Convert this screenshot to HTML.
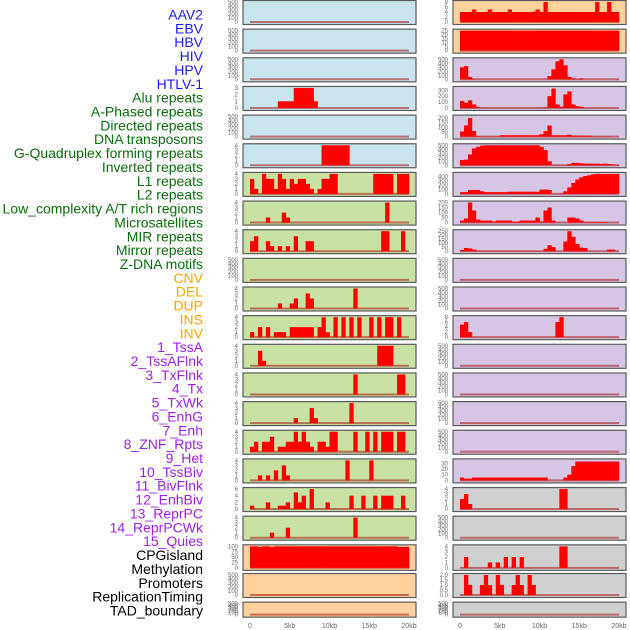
<!DOCTYPE html>
<html><head><meta charset="utf-8"><style>
html,body{margin:0;padding:0;background:#fff;width:630px;height:630px;overflow:hidden}
svg{display:block;font-family:"Liberation Sans",sans-serif}
</style></head><body>
<svg id="chart" width="630" height="630" viewBox="0 0 630 630"></svg>
<script>
const categories = ["AAV2","EBV","HBV","HIV","HPV","HTLV-1","Alu repeats","A-Phased repeats","Directed repeats","DNA transposons","G-Quadruplex forming repeats","Inverted repeats","L1 repeats","L2 repeats","Low_complexity A/T rich regions","Microsatellites","MIR repeats","Mirror repeats","Z-DNA motifs","CNV","DEL","DUP","INS","INV","1_TssA","2_TssAFlnk","3_TxFlnk","4_Tx","5_TxWk","6_EnhG","7_Enh","8_ZNF_Rpts","9_Het","10_TssBiv","11_BivFlnk","12_EnhBiv","13_ReprPC","14_ReprPCWk","15_Quies","CPGisland","Methylation","Promoters","ReplicationTiming","TAD_boundary"];
const categoryGroups = ["v","v","v","v","v","v","r","r","r","r","r","r","r","r","r","r","r","r","r","s","s","s","s","s","c","c","c","c","c","c","c","c","c","c","c","c","c","c","c","o","o","o","o","o"];
const xTickLabels = ["0","5kb","10kb","15kb","20kb"];
const xTickValues = [0,5,10,15,20];

const L3 = [0,0,0,0,0,0,0,1,1,1, 1,3,3,3,3,3,1,0,0,0, 0,0,0,0,0,0,0,0,0,0, 0,0,0,0,0,0,0,0,0,0];
const L5 = [0,0,0,0,0,0,0,0,0,0, 0,0,0,0,0,0,0,0,4,4, 4,4,4,4,4,0,0,0,0,0, 0,0,0,0,0,0,0,0,0,0];
const L6 = [3,1,0,4,3,3,1,4,3,1, 3,2,3,3,2,1,0,1,3,3, 4,4,0,0,0,0,0,0,0,0, 0,4,4,4,4,4,0,4,4,4];
const L7 = [0,0,0,0,1,0,0,0,2,1, 0,0,0,0,0,0,0,0,0,0, 0,0,0,0,0,0,0,0,0,0, 0,0,0,0,4,0,0,0,0,0];
const L8 = [2,3,0,0,2,1,0,1,0,1, 0,3,0,0,2,2,0,0,0,0, 0,0,0,0,0,0,0,0,0,0, 0,0,0,4,4,0,0,0,4,0];
const L10 = [0,0,0,0,0,0,0,1,0,0, 1,2,0,0,3,2,0,0,0,0, 0,0,0,0,0,0,4,0,0,0, 0,0,0,0,0,0,0,0,0,0];
const L11 = [1,0,2,0,2,0,1,1,1,0, 2,2,2,2,2,2,0,2,4,1, 0,4,0,4,0,4,0,4,0,0, 4,0,4,0,4,4,0,4,0,0];
const L12 = [0,0,3,1,0,0,0,0,0,0, 0,0,0,0,0,0,0,0,0,0, 0,0,0,0,0,0,0,0,0,0, 0,0,4,4,4,4,0,0,0,0];
const L13 = [0,0,0,0,0,0,0,0,0,0, 0,0,0,0,0,0,0,0,0,0, 0,0,0,0,0,0,4,0,0,0, 0,0,0,0,0,0,0,4,4,0];
const L14 = [0,0,0,0,0,0,0,0,0,0, 0,1,0,0,0,3,1,0,0,0, 0,0,0,0,0,4,0,0,0,0, 0,0,0,0,0,0,0,0,0,0];
const L15 = [1,2,0,2,2,3,0,1,1,2, 2,4,2,4,2,1,0,2,2,1, 4,4,0,0,0,0,4,0,0,4, 0,4,0,4,4,4,0,4,4,0];
const L16 = [0,0,1,0,1,0,2,0,3,1, 0,0,0,0,0,0,0,0,0,0, 0,0,0,0,4,0,0,0,0,0, 4,0,0,0,0,0,0,0,0,0];
const L17 = [1,0,0,0,2,0,0,1,1,2, 0,5,2,4,0,6,0,0,0,2, 0,0,0,0,0,4,0,0,4,0, 0,4,0,4,4,4,0,0,4,0];
const L18 = [0,0,0,0,0,1,0,0,0,2, 0,0,0,0,0,0,0,0,0,0, 0,0,0,0,0,0,4,0,0,0, 0,0,0,0,0,0,0,0,0,0];
const L19 = [100,100,97,100,100,97,100,100,100,100, 100,100,100,100,100,100,100,100,100,100, 100,100,100,100,100,100,100,100,100,100, 100,100,100,100,100,100,100,97,97,97];

const R0 = [4,4,4,5,4,4,4,5,4,4, 4,4,5,4,4,4,4,4,4,5, 4,8,4,4,4,4,4,4,4,4, 4,4,4,4,8,4,4,8,4,4];
const R1 = [25,25,25,25,25,25,25,25,25,25, 25,25,25,25,25,25,25,25,25,25, 25,25,25,25,25,25,25,25,25,25, 25,25,25,25,25,25,25,25,25,25];
const R2 = [300,330,60,5,0,0,0,0,0,0, 0,0,0,0,0,0,0,0,0,0, 0,0,80,250,450,500,350,60,20,5, 20,0,0,0,0,0,0,0,0,0];
const R3 = [120,90,130,60,15,0,0,0,0,0, 0,0,0,0,0,0,0,0,0,0, 0,5,200,330,60,20,230,280,60,30, 20,0,0,0,0,0,0,0,0,0];
const R4 = [55,120,200,60,5,2,2,2,2,2, 15,15,15,15,15,15,15,15,15,15, 25,60,120,15,15,15,15,20,10,10, 10,10,10,2,2,2,2,2,0,0];
const R5 = [130,140,270,420,460,490,500,500,500,500, 500,500,500,500,500,500,500,500,500,500, 460,380,100,3,3,3,3,30,60,60, 50,40,40,40,40,30,40,30,20,10];
const R6 = [40,40,90,90,90,60,40,40,40,40, 40,40,50,50,50,50,50,50,50,50, 100,100,90,0,0,10,60,150,250,330, 380,410,430,450,460,460,460,460,460,460];
const R7 = [20,40,200,120,30,20,20,20,10,20, 20,20,20,10,10,20,20,20,20,50, 10,120,150,20,0,0,0,50,50,40, 20,5,5,5,5,5,5,0,0,0];
const R8 = [15,40,35,20,5,3,3,3,3,3, 3,3,3,3,3,3,3,3,3,3, 3,30,75,50,0,0,120,250,180,90, 45,40,0,0,0,0,0,20,20,0];
const R11 = [5,6,2,0,0,0,0,0,0,0, 0,0,0,0,0,0,0,0,0,0, 0,0,0,0,6,8,0,0,0,0, 0,0,0,0,0,0,0,0,0,0];
const R16 = [5,3,3,5,5,5,5,5,5,5, 5,5,5,5,5,5,5,5,5,5, 5,5,0,0,0,0,5,10,25,33, 33,33,33,33,33,33,33,33,33,33];
const R17 = [2,3,1,0,0,0,0,0,0,0, 0,0,0,0,0,0,0,0,0,0, 0,0,0,0,0,4,4,0,0,0, 0,0,0,0,0,0,0,0,0,0];
const R19 = [0,2,0,0,0,0,0,1,0,1, 0,2,0,2,0,2,0,0,0,0, 0,0,0,0,0,4,4,0,0,0, 0,0,0,0,0,0,0,0,0,0];
const R20 = [0,2,1,0,0,1,2,1,0,2, 1,0,0,1,2,1,0,2,1,0, 0,0,0,0,0,0,0,0,0,0, 0,0,0,0,0,0,0,0,0,0];

const T500 = [0,100,200,300,400,500];
const T4 = [0,1,2,3,4];
const leftSeries = [null,null,null,L3,null,L5,L6,L7,L8,null,L10,L11,L12,L13,L14,L15,L16,L17,L18,L19,null,null];
const leftTicks = [T500,T500,T500,[0,1,2,3],T500,T4,T4,T4,T4,T500,T4,T4,T4,T4,T4,T4,T4,[0,2,4,6],T4,[0,25,50,75,100],T500,T500];
const leftMax = [500,500,500,3,500,4,4,4,4,500,4,4,4,4,4,4,4,6,4,100,500,500];
const leftBg = ["b","b","b","b","b","b","g","g","g","g","g","g","g","g","g","g","g","g","g","o","o","o"];
const rightSeries = [R0,R1,R2,R3,R4,R5,R6,R7,R8,null,null,R11,null,null,null,null,R16,R17,null,R19,R20,null];
const rightTicks = [[0,2,4,6,8],[0,5,10,15,20,25],T500,[0,100,200,300],[0,50,100,150,200],T500,[0,100,200,300,400],[0,50,100,150,200],[0,50,100,150,200,250],T500,T500,[0,2,4,6,8],T500,T500,T500,T500,[0,10,20,30],T4,T500,T4,["0.0","0.5","1.0","1.5","2.0"],T500];
const rightMax = [8,25,500,340,215,500,460,200,250,500,500,8,500,500,500,500,35,4,500,4,2,500];
const rightBg = ["o","o","p","p","p","p","p","p","p","p","p","p","p","p","p","p","p","y","y","y","y","y"];

const NS = "http://www.w3.org/2000/svg";
const svg = document.getElementById("chart");
const bgColors = {b:"#c9e4ec",g:"#c9e1a3",o:"#ffd19d",p:"#d7c6e3",y:"#d0d0d0"};
const labelColors = {v:"#1a1aff",r:"#0a6e0a",s:"#ffa500",c:"#a020f0",o:"#000"};
function mk(tag, attrs, parent){const e=document.createElementNS(NS,tag);for(const k in attrs)e.setAttribute(k,attrs[k]);(parent||svg).appendChild(e);return e;}

categories.forEach((c,i)=>{
  const t = mk("text",{x:203,y:19.5+i*13.86,"text-anchor":"end","font-size":"14",fill:labelColors[categoryGroups[i]]});
  
  
  t.textContent = c;
});

function rowTop(i){return 0.5+28.65*i;}
function rowH(i){return i===21?15:(i===19?25.5:24);}

function drawPanel(px, col, i, series, ticks, ymax, bg){
  const T=rowTop(i), H=rowH(i), W=173;
  const x0=px+7, x1=px+166;
  const xs = kb => x0+(x1-x0)*kb/20;
  const yb=T+H-2.5, yt=T+1.5;
  const ys = v => yb-(yb-yt)*v/ymax;
  const g = mk("g",{});
  
  
  const r = mk("rect",{x:px,y:T,width:W,height:H,fill:bgColors[bg],stroke:"#5a5a5a","stroke-width":"1.2"},g);
  
  
  const bl = mk("line",{x1:xs(0),x2:xs(20),y1:yb,y2:yb,stroke:"rgba(170,20,20,0.55)","stroke-width":"2"},g);
  
  
  if(series){
    const bw=(x1-x0)/series.length;
    series.forEach((v,k)=>{
      if(v<=0) return;
      const b = mk("rect",{x:xs(k*20/series.length),y:ys(v),width:bw+0.3,height:yb-ys(v),fill:"#ff0000"},g);
      
      
    });
  }
  ticks.forEach(tv=>{
    const t = mk("text",{x:px-5,y:ys(parseFloat(tv))+2,"text-anchor":"end","font-size":"6",fill:"#666"},g);
    
    
    t.textContent = tv;
  });
}
for(let i=0;i<22;i++){
  drawPanel(243,"left",i,leftSeries[i],leftTicks[i],leftMax[i],leftBg[i]);
  drawPanel(453,"right",i,rightSeries[i],rightTicks[i],rightMax[i],rightBg[i]);
}
[243,453].forEach(px=>{
  xTickValues.forEach((v,j)=>{
    const t = mk("text",{x:px+7+159*v/20,y:628,"text-anchor":"middle","font-size":"7",fill:"#666"});
    
    
    t.textContent = xTickLabels[j];
  });
});
</script>
</body></html>
